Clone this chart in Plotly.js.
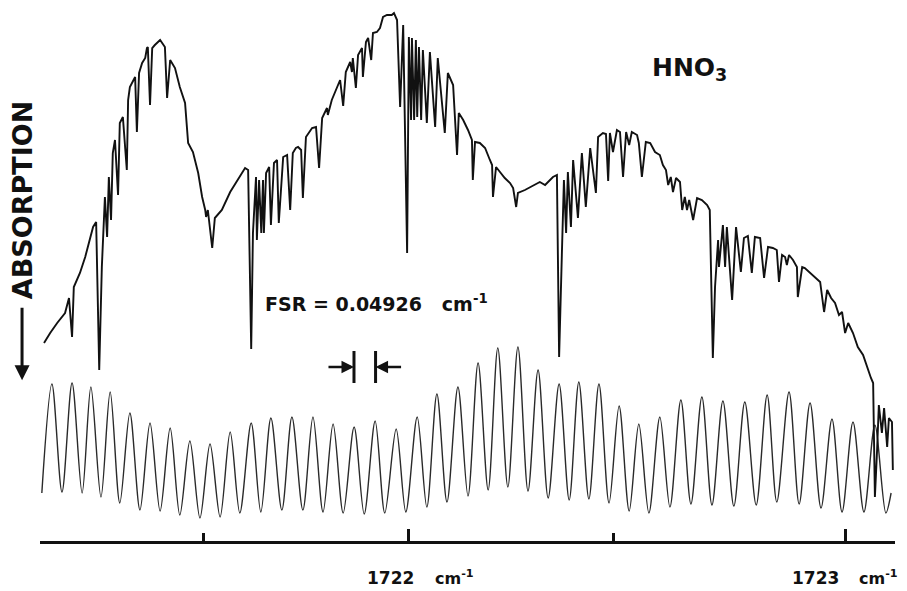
<!DOCTYPE html>
<html>
<head>
<meta charset="utf-8">
<script src="https://cdn.plot.ly/plotly-3.0.1.min.js"></script>
<style>html,body{margin:0;padding:0;background:#fff;}#chart{width:907px;height:591px;}</style>
</head>
<body>
<div id="chart"></div>
<script>
// HNO3 diode-laser absorption scan (wavenumber, cm^-1) and detector signal (arb. units)
const specWn = [
1721.169,1721.183,1721.199,1721.217,1721.226,1721.233,1721.237,1721.251,1721.263,1721.274,
1721.281,1721.288,1721.295,1721.301,1721.304,1721.308,1721.313,1721.317,1721.322,1721.326,
1721.331,1721.338,1721.342,1721.349,1721.358,1721.361,1721.365,1721.372,1721.377,1721.381,
1721.386,1721.393,1721.400,1721.404,1721.406,1721.411,1721.416,1721.422,1721.434,1721.445,
1721.450,1721.457,1721.468,1721.479,1721.491,1721.498,1721.509,1721.521,1721.530,1721.537,
1721.539,1721.543,1721.553,1721.559,1721.575,1721.594,1721.612,1721.628,1721.635,1721.642,
1721.646,1721.653,1721.655,1721.660,1721.665,1721.669,1721.671,1721.676,1721.683,1721.687,
1721.694,1721.701,1721.705,1721.715,1721.724,1721.731,1721.737,1721.744,1721.749,1721.756,
1721.760,1721.767,1721.781,1721.790,1721.797,1721.804,1721.815,1721.817,1721.826,1721.838,
1721.845,1721.852,1721.858,1721.868,1721.872,1721.874,1721.881,1721.886,1721.895,1721.897,
1721.904,1721.909,1721.916,1721.920,1721.929,1721.936,1721.943,1721.952,1721.963,1721.968,
1721.975,1721.982,1721.989,1721.998,1722.002,1722.007,1722.009,1722.014,1722.018,1722.021,
1722.025,1722.030,1722.034,1722.043,1722.050,1722.062,1722.068,1722.084,1722.091,1722.103,
1722.112,1722.116,1722.126,1722.137,1722.146,1722.148,1722.153,1722.164,1722.176,1722.187,
1722.192,1722.194,1722.201,1722.210,1722.221,1722.233,1722.240,1722.247,1722.251,1722.267,
1722.279,1722.290,1722.301,1722.313,1722.324,1722.331,1722.340,1722.345,1722.352,1722.356,
1722.361,1722.365,1722.372,1722.377,1722.388,1722.397,1722.406,1722.416,1722.429,1722.434,
1722.445,1722.452,1722.457,1722.461,1722.468,1722.477,1722.484,1722.491,1722.498,1722.505,
1722.511,1722.523,1722.527,1722.534,1722.543,1722.553,1722.564,1722.575,1722.582,1722.589,
1722.594,1722.600,1722.605,1722.612,1722.621,1722.626,1722.632,1722.637,1722.642,1722.651,
1722.660,1722.671,1722.683,1722.689,1722.696,1722.701,1722.708,1722.710,1722.719,1722.724,
1722.728,1722.740,1722.749,1722.760,1722.767,1722.776,1722.785,1722.792,1722.804,1722.813,
1722.822,1722.833,1722.842,1722.847,1722.854,1722.861,1722.865,1722.870,1722.879,1722.888,
1722.890,1722.900,1722.906,1722.918,1722.929,1722.941,1722.950,1722.957,1722.966,1722.975,
1722.984,1722.991,1722.998,1723.005,1723.016,1723.027,1723.039,1723.048,1723.057,1723.062,
1723.066,1723.071,1723.075,1723.082,1723.087,1723.094,1723.098,1723.105,1723.107
];
const specSig = [
207,217,227,237,252,213,263,277,293,310,
323,328,180,283,310,353,313,373,330,397,
410,355,427,433,380,450,463,468,473,418,
477,487,492,502,503,445,502,505,510,503,
452,490,482,463,447,407,398,377,353,340,
333,340,302,332,340,358,370,382,380,201,
317,373,310,370,317,370,317,377,383,325,
387,390,327,393,395,340,397,402,403,400,
352,413,422,423,382,432,442,435,450,463,
470,444,478,488,478,492,462,495,502,473,
508,512,490,517,518,522,533,535,535,537,
530,443,525,297,513,430,512,430,510,433,
503,430,500,427,498,423,492,417,477,465,
395,437,430,420,410,370,408,407,402,390,
385,353,383,378,372,367,362,343,357,360,
363,365,368,365,370,373,375,193,307,370,
317,378,323,390,332,397,343,402,357,413,
417,416,369,417,398,420,418,373,418,405,
418,415,407,373,408,407,398,395,385,380,
365,373,358,372,368,340,353,340,350,330,
352,350,345,340,192,263,310,283,325,283,
323,250,323,278,312,314,277,313,312,272,
303,302,300,268,295,293,285,295,290,283,
253,283,282,277,272,268,238,260,252,247,
235,238,217,227,217,203,195,183,172,167,
53,100,145,117,142,103,132,128,80
];
// Etalon fringes: alternating maxima / minima
const fringeWn = [
1721.164,1721.187,1721.210,1721.233,1721.256,1721.276,1721.299,1721.320,1721.342,1721.365,
1721.388,1721.411,1721.434,1721.457,1721.479,1721.502,1721.525,1721.548,1721.571,1721.594,
1721.616,1721.642,1721.664,1721.687,1721.712,1721.735,1721.760,1721.783,1721.806,1721.829,
1721.852,1721.877,1721.900,1721.925,1721.947,1721.973,1721.995,1722.021,1722.043,1722.066,
1722.089,1722.114,1722.137,1722.160,1722.183,1722.205,1722.228,1722.251,1722.274,1722.297,
1722.320,1722.345,1722.368,1722.390,1722.413,1722.436,1722.459,1722.482,1722.505,1722.527,
1722.550,1722.575,1722.598,1722.623,1722.646,1722.671,1722.694,1722.719,1722.744,1722.769,
1722.795,1722.820,1722.842,1722.870,1722.893,1722.918,1722.943,1722.968,1722.991,1723.016,
1723.041,1723.066,1723.091,1723.103
];
const fringeSig = [
57,166,58,167,57,163,53,158,47,137,
40,127,39,122,35,109,32,106,33,118,
37,127,38,132,40,133,40,133,38,126,
37,123,36,129,37,121,38,133,43,156,
48,163,54,187,60,202,63,203,59,180,
52,166,50,168,51,166,47,144,39,126,
37,133,43,150,46,153,45,149,44,148,
45,155,48,158,46,147,42,131,38,128,
38,125,37,57
];
const majorTicks = [1722, 1723];
const majorLabels = ['1722', '1723'];
const minorTicks = [1721.534, 1722.470];
const FSR = 0.04926;          // cm^-1, etalon free spectral range
const fsrStart = 1721.8767;   // left marker of the FSR bracket
const fsrLevel = 183;

const FONT = 'DejaVu Sans, Liberation Sans, Arial, sans-serif';
const INK = '#111';

const traces = [
  {x: fringeWn, y: fringeSig, type: 'scatter', mode: 'lines',
   line: {color: '#2a2a2a', width: 1.4, shape: 'spline', smoothing: 0.9}, hoverinfo: 'skip'},
  {x: specWn, y: specSig, type: 'scatter', mode: 'lines',
   line: {color: INK, width: 1.9}, hoverinfo: 'skip'}
];

const labelY = -0.069;   // paper units, below the axis line
const annotations = [
  {x: 1722.553, y: 481, xref: 'x', yref: 'y', xanchor: 'left', yanchor: 'middle', showarrow: false,
   text: '<b>HNO<sub>3</sub></b>', font: {family: FONT, size: 25, color: INK}},
  {x: 1721.669, y: 247, xref: 'x', yref: 'y', xanchor: 'left', yanchor: 'middle', showarrow: false,
   text: '<b>FSR = 0.04926   cm<sup>-1</sup></b>', font: {family: FONT, size: 19, color: INK}},
  {x: -0.021, y: 0.636, xref: 'paper', yref: 'paper', xanchor: 'center', yanchor: 'middle', showarrow: false,
   textangle: -90, text: '<b>ABSORPTION</b>', font: {family: FONT, size: 27, color: INK}},
  {x: -0.021, y: 0.300, xref: 'paper', yref: 'paper', ax: 0, ay: -74, text: '', showarrow: true,
   arrowhead: 2, arrowsize: 1, arrowwidth: 3, arrowcolor: INK},
  {x: fsrStart, y: fsrLevel, xref: 'x', yref: 'y', ax: -27, ay: 0, text: '', showarrow: true,
   arrowhead: 2, arrowsize: 1, arrowwidth: 2.5, arrowcolor: INK},
  {x: fsrStart + FSR, y: fsrLevel, xref: 'x', yref: 'y', ax: 27, ay: 0, text: '', showarrow: true,
   arrowhead: 2, arrowsize: 1, arrowwidth: 2.5, arrowcolor: INK},
  {x: 0.4094, y: labelY, xref: 'paper', yref: 'paper', xanchor: 'center', yanchor: 'middle', showarrow: false,
   text: '<b>' + majorLabels[0] + '</b>', font: {family: FONT, size: 17, color: INK}},
  {x: 0.9076, y: labelY, xref: 'paper', yref: 'paper', xanchor: 'center', yanchor: 'middle', showarrow: false,
   text: '<b>' + majorLabels[1] + '</b>', font: {family: FONT, size: 17, color: INK}},
  {x: 0.4596, y: labelY, xref: 'paper', yref: 'paper', xanchor: 'left', yanchor: 'middle', showarrow: false,
   text: '<b>cm<sup>-1</sup></b>', font: {family: FONT, size: 16, color: INK}},
  {x: 0.956, y: labelY, xref: 'paper', yref: 'paper', xanchor: 'left', yanchor: 'middle', showarrow: false,
   text: '<b>cm<sup>-1</sup></b>', font: {family: FONT, size: 16, color: INK}}
];

const shapes = [fsrStart, fsrStart + FSR].map(v => ({
  type: 'line', xref: 'x', yref: 'y', x0: v, x1: v, y0: fsrLevel - 16, y1: fsrLevel + 16,
  line: {color: INK, width: 3}
}));

const layout = {
  width: 907, height: 591,
  margin: {l: 40, r: 12, t: 5, b: 50},
  paper_bgcolor: '#fff', plot_bgcolor: '#fff',
  showlegend: false,
  xaxis: {
    range: [1721.1598, 1723.1119], showgrid: false, zeroline: false,
    showline: true, linewidth: 3, linecolor: INK,
    ticks: 'inside', ticklen: 12, tickwidth: 3, tickcolor: INK,
    tickmode: 'array', tickvals: majorTicks, showticklabels: false,
    minor: {tickmode: 'array', tickvals: minorTicks, ticks: 'inside', ticklen: 8, tickwidth: 3, tickcolor: INK},
    fixedrange: true
  },
  yaxis: {range: [9, 545], visible: false, fixedrange: true},
  annotations: annotations,
  shapes: shapes
};

Plotly.newPlot('chart', traces, layout, {staticPlot: true, displayModeBar: false});
</script>
</body>
</html>
